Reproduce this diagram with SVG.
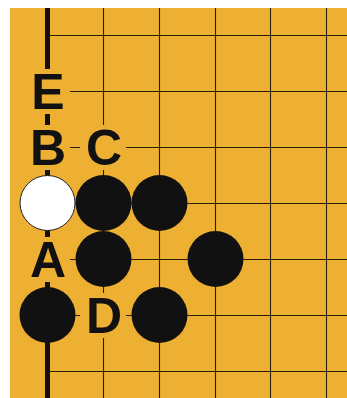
<svg xmlns="http://www.w3.org/2000/svg" width="347" height="398" viewBox="0 0 347 398">
<style>
.grid{stroke:#2a1e0a;stroke-width:1.1;fill:none}
.edge{stroke:#111;stroke-width:5;fill:none}
.bk{fill:#111}
.wh{fill:#fff;stroke:#222;stroke-width:1}
.lblbg{fill:#EEB033}
.lbl{font-family:"Liberation Sans",Arial,sans-serif;font-weight:bold;font-size:50px;fill:#111;text-anchor:middle}
</style>
<rect x="0" y="0" width="347" height="398" fill="#fff"/>
<rect x="10" y="8" width="337" height="390" fill="#EEB033"/>
<g id="grid">
<line class="grid" x1="103.5" y1="8" x2="103.5" y2="398"/>
<line class="grid" x1="159.5" y1="8" x2="159.5" y2="398"/>
<line class="grid" x1="215.5" y1="8" x2="215.5" y2="398"/>
<line class="grid" x1="270.5" y1="8" x2="270.5" y2="398"/>
<line class="grid" x1="326.5" y1="8" x2="326.5" y2="398"/>
<line class="grid" x1="47" y1="35.5" x2="347" y2="35.5"/>
<line class="grid" x1="47" y1="91.5" x2="347" y2="91.5"/>
<line class="grid" x1="47" y1="147.5" x2="347" y2="147.5"/>
<line class="grid" x1="47" y1="203.5" x2="347" y2="203.5"/>
<line class="grid" x1="47" y1="259.5" x2="347" y2="259.5"/>
<line class="grid" x1="47" y1="315.5" x2="347" y2="315.5"/>
<line class="grid" x1="47" y1="371.5" x2="347" y2="371.5"/>
<line class="edge" x1="47.5" y1="8" x2="47.5" y2="398"/>
</g>
<g id="stones">
<circle id="w1" class="wh" cx="47.5" cy="203" r="27.5"/>
<circle id="b1" class="bk" cx="103.5" cy="203" r="28"/>
<circle id="b2" class="bk" cx="159.5" cy="203" r="28"/>
<circle id="b3" class="bk" cx="103.5" cy="259" r="28"/>
<circle id="b4" class="bk" cx="215.5" cy="259" r="28"/>
<circle id="b5" class="bk" cx="47.5" cy="315" r="28"/>
<circle id="b6" class="bk" cx="159.5" cy="315" r="28"/>
</g>
<g id="labelE"><rect class="lblbg" x="24" y="69" width="46" height="45"/><text class="lbl" x="48" y="109">E</text></g>
<g id="labelB"><rect class="lblbg" x="24" y="125" width="46" height="45"/><text class="lbl" x="48" y="165">B</text></g>
<g id="labelC"><rect class="lblbg" x="80" y="125" width="46" height="45"/><text class="lbl" x="104" y="165">C</text></g>
<g id="labelA"><rect class="lblbg" x="24" y="237" width="46" height="45"/><text class="lbl" x="48" y="277">A</text></g>
<g id="labelD"><rect class="lblbg" x="80" y="293" width="46" height="45"/><text class="lbl" x="104" y="333">D</text></g>
</svg>
